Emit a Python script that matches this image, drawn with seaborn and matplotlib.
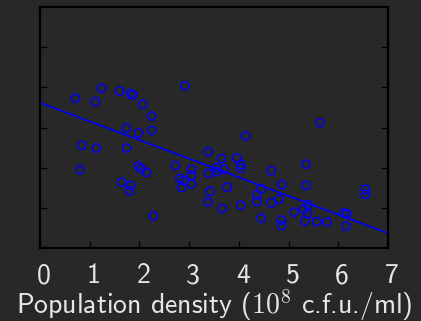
import matplotlib
matplotlib.use("Agg")
import matplotlib.pyplot as plt
import matplotlib.transforms as mtransforms
import pandas as pd
import seaborn as sns

# Population density (1e8 c.f.u./ml) and the measured response per culture
density = [
    0.714, 1.237, 1.116, 1.599, 1.816, 1.865, 2.068, 2.247, 1.740, 1.981,
    2.247, 0.839, 1.132, 1.740, 2.917, 4.138, 3.385, 3.655, 3.959, 5.632,
    0.805, 1.977, 2.032, 2.146, 1.643, 1.820, 1.800, 2.279, 2.726, 3.047,
    2.816, 2.897, 3.047, 3.047, 2.850, 3.385, 3.554, 3.554, 3.701, 4.043,
    4.037, 3.420, 3.768, 3.379, 3.667, 4.037, 4.365, 4.365, 4.449, 4.455,
    5.351, 4.653, 4.862, 5.351, 4.808, 4.655, 5.113, 5.306, 5.391, 5.385,
    5.330, 4.858, 4.858, 5.566, 5.773, 6.115, 6.175, 6.161, 6.548, 6.548,
]
response = [
    3.727, 3.976, 3.642, 3.908, 3.846, 3.809, 3.577, 3.286, 2.987, 2.863,
    2.925, 2.557, 2.489, 2.489, 4.040, 2.788, 2.397, 2.228, 2.240, 3.119,
    1.954, 2.041, 1.974, 1.885, 1.636, 1.556, 1.426, 0.797, 2.054, 1.959,
    1.730, 1.680, 1.805, 1.593, 1.506, 1.860, 1.999, 1.897, 1.962, 2.079,
    1.984, 1.412, 1.511, 1.145, 0.983, 1.065, 1.324, 1.158, 1.474, 0.739,
    2.086, 1.924, 1.581, 1.556, 1.212, 1.120, 0.891, 0.971, 1.078, 0.854,
    0.672, 0.697, 0.560, 0.655, 0.655, 0.871, 0.854, 0.543, 1.461, 1.337,
]

# Linear trend across the plotted density range
fit_density = [0.0, 7.0]
fit_response = [3.617, 0.366]

x_ticks = [0, 1, 2, 3, 4, 5, 6, 7]
x_tick_labels = ["0", "1", "2", "3", "4", "5", "6", "7"]
y_ticks = [1, 2, 3, 4, 5]

sns.set_theme(style="ticks")
plt.rcParams.update({
    "font.family": ["cmss10", "DejaVu Sans"],
    "mathtext.fontset": "cm",
    "axes.unicode_minus": False,
    "axes.formatter.use_mathtext": True,
})

bg = "#282828"
ink = "#e6e6e6"
blue = "#0000ff"

fig = plt.figure(figsize=(4.21, 3.21), dpi=100, facecolor=bg)
ax = fig.add_axes([40 / 421, 73 / 321, 348 / 421, 241 / 321])
ax.set_facecolor(bg)

points = pd.DataFrame({"density": density, "response": response})
sns.scatterplot(data=points, x="density", y="response", ax=ax,
                marker="o", s=36, facecolors="none", edgecolor=blue,
                linewidth=1.0, zorder=3)
sns.lineplot(x=fit_density, y=fit_response, ax=ax, color=blue,
             linewidth=1.2, zorder=2)

ax.set_xlim(0, 7)
ax.set_ylim(0, 6)
ax.set_xticks(x_ticks, x_tick_labels)
ax.set_yticks(y_ticks, [""] * len(y_ticks))
ax.tick_params(axis="both", direction="in", length=5, width=0.9,
               color="black", labelcolor=ink, labelsize=20)
ax.tick_params(axis="x", pad=11)
ax.tick_params(axis="y", left=True, right=True, labelleft=False)

for side in ["left", "right", "top", "bottom"]:
    ax.spines[side].set_visible(True)
    ax.spines[side].set_color("black")
    ax.spines[side].set_linewidth(1.6)

shift = mtransforms.ScaledTranslation(4 / 100, 0, fig.dpi_scale_trans)
for lab in ax.get_xticklabels():
    lab.set_transform(lab.get_transform() + shift)

ax.set_xlabel("Population density ($10^8$ c.f.u./ml)", fontsize=20,
              color=ink, labelpad=-1)
ax.set_ylabel("")

fig.savefig("out.png", dpi=100, facecolor=bg)
